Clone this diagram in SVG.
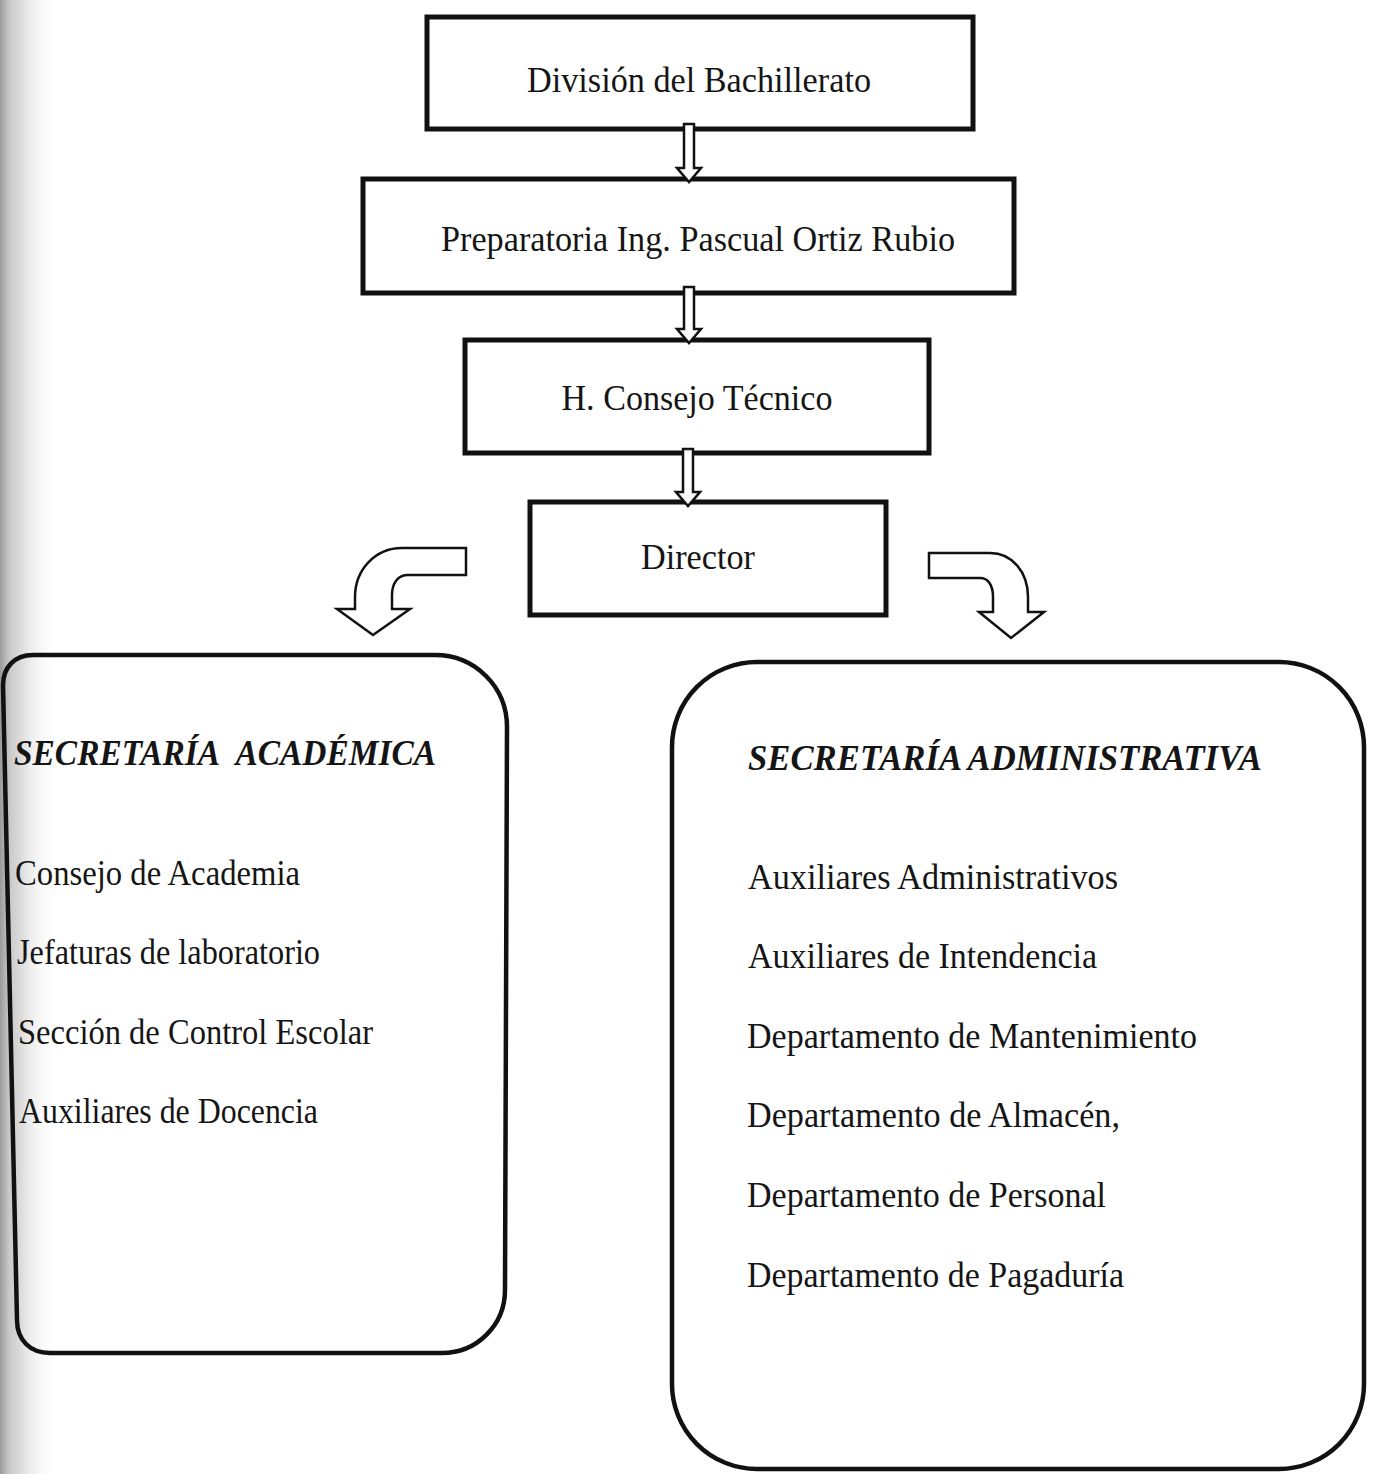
<svg xmlns="http://www.w3.org/2000/svg" width="1375" height="1474" viewBox="0 0 1375 1474">
  <defs>
    <linearGradient id="gutter" x1="0" y1="0" x2="60" y2="0" gradientUnits="userSpaceOnUse">
      <stop offset="0" stop-color="#9a9a9a"/>
      <stop offset="0.15" stop-color="#c8c8c8"/>
      <stop offset="0.5" stop-color="#ececec"/>
      <stop offset="1" stop-color="#ffffff" stop-opacity="0"/>
    </linearGradient>
  </defs>
  <style>
    .box { fill: #ffffff; stroke: #111111; stroke-width: 5; }
    .rbox { fill: none; stroke: #111111; stroke-width: 4.5; }
    .arrow { fill: #ffffff; stroke: #111111; stroke-width: 2.5; stroke-linejoin: miter; }
    .t { font-family: "Liberation Serif", "Times New Roman", serif; fill: #151515; }
    .lbl { font-size: 36px; text-anchor: middle; }
    .hdr { font-size: 35px; font-weight: bold; font-style: italic; }
    .item { font-size: 35px; }
  </style>
  <rect x="0" y="0" width="1375" height="1474" fill="#ffffff"/>
  <rect x="0" y="0" width="60" height="1474" fill="url(#gutter)"/>

  <g id="node-division">
    <rect class="box" x="427" y="17" width="546" height="112"/>
    <text class="t lbl" x="699" y="92" textLength="344" lengthAdjust="spacingAndGlyphs">División del Bachillerato</text>
  </g>
  <g id="node-preparatoria">
    <rect class="box" x="363" y="179" width="651" height="114"/>
    <text class="t lbl" x="698" y="251" textLength="514" lengthAdjust="spacingAndGlyphs">Preparatoria Ing. Pascual Ortiz Rubio</text>
  </g>
  <g id="node-consejo">
    <rect class="box" x="465" y="340" width="464" height="113"/>
    <text class="t lbl" x="697" y="410" textLength="271" lengthAdjust="spacingAndGlyphs">H. Consejo Técnico</text>
  </g>
  <g id="node-director">
    <rect class="box" x="530" y="502" width="356" height="113"/>
    <text class="t lbl" x="698" y="569" textLength="114" lengthAdjust="spacingAndGlyphs">Director</text>
  </g>

  <g id="node-academica">
    <path class="rbox" d="M 3,685 C 3,668 14,655 33,655 L 435,655 C 475,655 507,687 507,727 L 505,1290 C 505,1325 477,1353 442,1353 L 50,1353 C 30,1353 17,1340 17,1320 Z"/>
    <text class="t hdr" x="14" y="765" textLength="422" lengthAdjust="spacingAndGlyphs">SECRETARÍA&#160; ACADÉMICA</text>
    <text class="t item" x="15" y="885" textLength="285" lengthAdjust="spacingAndGlyphs">Consejo de Academia</text>
    <text class="t item" x="17" y="964" textLength="303" lengthAdjust="spacingAndGlyphs">Jefaturas de laboratorio</text>
    <text class="t item" x="18" y="1044" textLength="355" lengthAdjust="spacingAndGlyphs">Sección de Control Escolar</text>
    <text class="t item" x="19" y="1123" textLength="299" lengthAdjust="spacingAndGlyphs">Auxiliares de Docencia</text>
  </g>

  <g id="node-administrativa">
    <rect class="rbox" x="672" y="662" width="692" height="807" rx="85" ry="85"/>
    <text class="t hdr" x="748" y="770" textLength="514" lengthAdjust="spacingAndGlyphs">SECRETARÍA ADMINISTRATIVA</text>
    <text class="t item" x="748" y="889" textLength="370" lengthAdjust="spacingAndGlyphs">Auxiliares Administrativos</text>
    <text class="t item" x="748" y="968" textLength="349" lengthAdjust="spacingAndGlyphs">Auxiliares de Intendencia</text>
    <text class="t item" x="747" y="1048" textLength="450" lengthAdjust="spacingAndGlyphs">Departamento de Mantenimiento</text>
    <text class="t item" x="747" y="1127" textLength="373" lengthAdjust="spacingAndGlyphs">Departamento de Almacén,</text>
    <text class="t item" x="747" y="1207" textLength="359" lengthAdjust="spacingAndGlyphs">Departamento de Personal</text>
    <text class="t item" x="747" y="1287" textLength="377" lengthAdjust="spacingAndGlyphs">Departamento de Pagaduría</text>
  </g>

  <g id="connectors">
    <path class="arrow" d="M 684,124 L 694,124 L 694,168 L 701,168 L 689,182 L 677,168 L 684,168 Z"/>
    <path class="arrow" d="M 684,287 L 694,287 L 694,329 L 701,329 L 689,343 L 677,329 L 684,329 Z"/>
    <path class="arrow" d="M 683,449 L 693,449 L 693,492 L 700,492 L 688,506 L 676,492 L 683,492 Z"/>
    <path class="arrow" d="M 466,548 L 402,548 C 375,548 355,570 355,597 L 355,609 L 337,609 L 373,635 L 410,609 L 392,609 L 392,595 C 392,583 398,575 408,575 L 466,575 Z"/>
    <path class="arrow" d="M 929,553 L 990,553 C 1012,553 1028,572 1028,597 L 1028,612 L 1044,612 L 1011,638 L 979,612 L 993,612 L 993,597 C 993,585 988,578 980,578 L 929,578 Z"/>
  </g>
</svg>
